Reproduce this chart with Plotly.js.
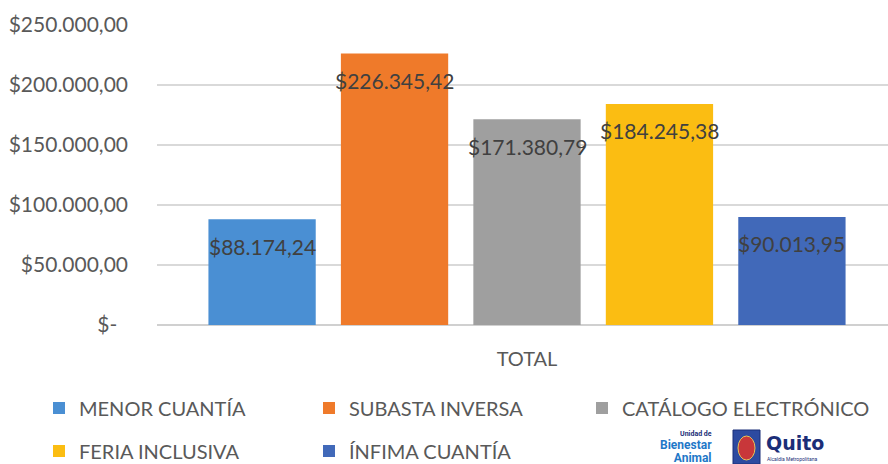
<!DOCTYPE html>
<html>
<head>
<meta charset="utf-8">
<script src="https://cdn.plot.ly/plotly-3.0.1.min.js"></script>
<style>
html,body{margin:0;padding:0;background:#fff;}
#chart{width:888px;height:464px;}
</style>
</head>
<body>
<div id="chart"></div>
<script>
const category = ['TOTAL'];
const seriesNames = ['MENOR CUANTÍA', 'SUBASTA INVERSA', 'CATÁLOGO ELECTRÓNICO', 'FERIA INCLUSIVA', 'ÍNFIMA CUANTÍA'];
const seriesValues = [88174.24, 226345.42, 171380.79, 184245.38, 90013.95];
const seriesLabels = ['$88.174,24', '$226.345,42', '$171.380,79', '$184.245,38', '$90.013,95'];
const seriesColors = ['#4a8fd3', '#ef7a2a', '#9f9f9f', '#fbbd12', '#4169b9'];
const yTickVals = [0, 50000, 100000, 150000, 200000, 250000];
const yTickText = ['$-  ', '$50.000,00', '$100.000,00', '$150.000,00', '$200.000,00', '$250.000,00'];

const FONT = 'Lato, "Open Sans", sans-serif';

const BARGAP = 0.105, BARGROUPGAP = 0.19;
const nSeries = seriesNames.length;
const legendIds = seriesNames.map((n, i) => i === 0 ? 'legend' : 'legend' + (i + 1));

const traces = seriesNames.map((name, i) => ({
  type: 'bar',
  name: name,
  x: category,
  y: [seriesValues[i]],
  legend: legendIds[i],
  marker: {color: seriesColors[i], line: {width: 0}},
  hoverinfo: 'skip'
}));

const plotLeft = 157, plotRight = 888, plotTop = 25, plotBottom = 325, H = 464;
const centerPx = 527;
const leftUnits = 0.5;
const pxPerUnit = (centerPx - plotLeft) / leftUnits;
const rightUnits = (plotRight - centerPx) / pxPerUnit;
const px = v => (v - plotLeft) / (plotRight - plotLeft);
const py = v => (plotBottom - v) / (plotBottom - plotTop);

// data labels placed at each bar's value, inside near the top
const slot = (1 - BARGAP) / nSeries;
const labelAnns = seriesNames.map((name, i) => ({
  xref: 'x', yref: 'y',
  x: -(1 - BARGAP) / 2 + slot * (i + 0.5),
  y: seriesValues[i],
  yshift: -27,
  xanchor: 'center', yanchor: 'middle',
  showarrow: false,
  text: seriesLabels[i],
  font: {family: FONT, size: 21, color: '#404040'}
}));

const logoAnns = [
  {xref: 'paper', yref: 'paper', x: px(714), y: py(447),
   xanchor: 'right', yanchor: 'middle', align: 'right', showarrow: false,
   text: '<b><span style="font-size:7px;color:#1b2e78">Unidad de</span></b><br>' +
         '<b><span style="font-size:12px">Bienestar</span></b><br>' +
         '<b><span style="font-size:12px">Animal</span></b>',
   font: {family: 'Roboto, sans-serif', size: 10, color: '#1f78c8'}},
  {xref: 'paper', yref: 'paper', x: px(764), y: py(443),
   xanchor: 'left', yanchor: 'middle', showarrow: false,
   text: '<b>Quito</b>', font: {family: '"DejaVu Sans", sans-serif', size: 19, color: '#1b2e78'}},
  {xref: 'paper', yref: 'paper', x: px(765), y: py(459),
   xanchor: 'left', yanchor: 'middle', showarrow: false,
   text: 'Alcaldía Metropolitana', font: {family: 'Roboto, sans-serif', size: 5, color: '#1b2e78'}}
];

// legend grid: 3 columns x 2 rows
const legendColX = [39, 309, 582];
const legendRowY = [408, 451];
const legendCommon = {
  orientation: 'h',
  xanchor: 'left',
  yanchor: 'middle',
  traceorder: 'normal',
  bgcolor: 'rgba(0,0,0,0)',
  font: {family: FONT, size: 20, color: '#595959'},
  itemclick: false,
  itemdoubleclick: false
};

const layout = {
  width: 888,
  height: 464,
  margin: {l: plotLeft, r: 888 - plotRight, t: plotTop, b: H - plotBottom, pad: 0, autoexpand: false},
  paper_bgcolor: '#ffffff',
  plot_bgcolor: '#ffffff',
  font: {family: FONT, color: '#595959', size: 20},
  barmode: 'group',
  bargap: BARGAP,
  bargroupgap: BARGROUPGAP,
  showlegend: true,
  xaxis: {
    type: 'category',
    range: [-leftUnits, rightUnits],
    automargin: false,
    showgrid: false,
    zeroline: false,
    showline: false,
    ticks: '',
    tickfont: {family: FONT, size: 20, color: '#595959'},
    ticklabelstandoff: 20,
    fixedrange: true
  },
  yaxis: {
    range: [0, 250000],
    automargin: false,
    tickvals: yTickVals,
    ticktext: yTickText,
    showgrid: true,
    gridcolor: '#d9d9d9',
    gridwidth: 1.5,
    zeroline: true,
    zerolinecolor: '#d0d0d0',
    zerolinewidth: 2,
    showline: false,
    ticks: '',
    ticklabelstandoff: 28,
    tickfont: {family: FONT, size: 21, color: '#595959'},
    fixedrange: true
  },
  shapes: [
    {type: 'rect', xref: 'paper', yref: 'paper',
     x0: px(733), x1: px(760), y0: py(464), y1: py(430),
     fillcolor: '#2d4aa0', line: {color: '#1b2e78', width: 1}},
    {type: 'circle', xref: 'paper', yref: 'paper',
     x0: px(738), x1: px(755), y0: py(460), y1: py(436),
     fillcolor: '#c8373a', line: {color: '#e8c35a', width: 1}}
  ],
  annotations: labelAnns.concat(logoAnns)
};

legendIds.forEach((id, i) => {
  layout[id] = Object.assign({}, legendCommon, {
    x: px(legendColX[i % 3]),
    y: py(legendRowY[Math.floor(i / 3)])
  });
});

Plotly.newPlot('chart', traces, layout, {staticPlot: true, displayModeBar: false});
</script>
</body>
</html>
